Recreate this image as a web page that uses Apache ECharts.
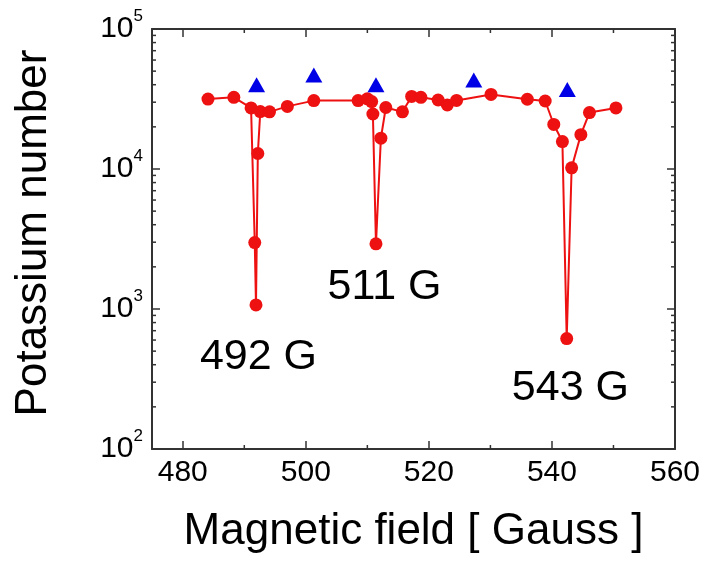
<!DOCTYPE html>
<html lang="en">
<head>
<meta charset="UTF-8">
<title>Potassium number vs magnetic field</title>
<style>
    html, body { margin: 0; padding: 0; background: #fff; }
    #chart { width: 706px; height: 562px; }
</style>
</head>
<body>
<div id="chart"></div>
<script src="https://cdn.jsdelivr.net/npm/echarts@6/dist/echarts.min.js"></script>
<script>
    // measured loss curve (red)
    var fieldG = [484.1, 488.3, 491.1, 491.7, 491.9, 492.2, 492.6, 494.1, 497.0, 501.3, 508.5,
        510.0, 510.7, 510.9, 511.4, 512.2, 513.0, 515.7, 517.2, 518.7, 521.5, 523.0, 524.5,
        530.1, 536.0, 538.9, 540.3, 541.7, 542.4, 543.2, 544.7, 546.1, 550.4];
    var potassium = [31600, 32500, 27300, 2980, 1070, 12900, 25700, 25600, 28000, 30800, 30800,
        31700, 30300, 24700, 2920, 16600, 27500, 25600, 33000, 32500, 31100, 28700, 30900,
        34100, 31500, 30600, 20800, 15700, 615, 10200, 17600, 25300, 27300];
    // reference points (blue triangles)
    var refField = [492.0, 501.3, 511.4, 527.3, 542.5];
    var refLevel = [40000, 47000, 40000, 43300, 36900];
    // resonance labels
    var notes = ['492 G', '511 G', '543 G'];
    var noteX = [492.3, 512.8, 543.0];
    var noteY = [456, 1426, 270];
    // ticks
    var xMajor = [480, 500, 520, 540, 560];
    var xMinor = [490, 510, 530, 550];
    var yDecades = [100, 1000, 10000];

    var xMin = 475, xMax = 560, yMin = 100, yMax = 100000;
    var font = 'Liberation Sans, Arial, sans-serif';
    var frame = '#333';

    var redData = fieldG.map(function (x, i) { return [x, potassium[i]]; });
    var blueData = refField.map(function (x, i) { return [x, refLevel[i]]; });
    var noteData = notes.map(function (n, i) { return {name: n, value: [noteX[i], noteY[i]]}; });
    var yMinorData = [];
    yDecades.forEach(function (d) {
        for (var k = 2; k <= 9; k++) yMinorData.push([xMin, d * k]);
    });
    var xMinorData = xMinor.map(function (x) { return [x, yMin]; });

    function sideAxis(pos, showLabel) {
        return {
            type: 'value',
            position: pos,
            min: xMin,
            max: xMax,
            axisLine: {show: true, onZero: false, lineStyle: {color: frame, width: 2}},
            axisTick: {show: true, inside: true, length: 8, customValues: xMajor,
                lineStyle: {color: frame, width: 1.5}},
            axisLabel: {show: showLabel, customValues: xMajor, margin: 9, color: '#000',
                fontSize: 30, fontFamily: font},
            splitLine: {show: false}
        };
    }

    function logAxis(pos, showLabel) {
        return {
            type: 'log',
            logBase: 10,
            position: pos,
            min: yMin,
            max: yMax,
            axisLine: {show: true, onZero: false, lineStyle: {color: frame, width: 2}},
            axisTick: {show: true, inside: true, length: 8, lineStyle: {color: frame, width: 1.5}},
            axisLabel: {
                show: showLabel,
                margin: 9,
                showMinLabel: true,
                showMaxLabel: true,
                formatter: function (v) {
                    return '{b|10}{s|' + Math.round(Math.log10(v)) + '}';
                },
                rich: {
                    b: {fontSize: 30, lineHeight: 42, color: '#000', fontFamily: font},
                    s: {fontSize: 17, lineHeight: 17, color: '#000', fontFamily: font, verticalAlign: 'top'}
                }
            },
            splitLine: {show: false}
        };
    }

    var xBottom = sideAxis('bottom', true);
    xBottom.name = 'Magnetic field [ Gauss ]';
    xBottom.nameLocation = 'middle';
    xBottom.nameGap = 61;
    xBottom.nameTextStyle = {fontSize: 44, lineHeight: 44, color: '#000', fontFamily: font};

    var yLeft = logAxis('left', true);
    yLeft.name = 'Potassium number';
    yLeft.nameLocation = 'middle';
    yLeft.nameGap = 96;
    yLeft.nameTextStyle = {fontSize: 44, lineHeight: 44, color: '#000', fontFamily: font,
        padding: [0, 0, 0, 12]};

    var chart = echarts.init(document.getElementById('chart'), null, {renderer: 'canvas'});
    var option = {
        animation: false,
        backgroundColor: '#fff',
        grid: {left: 152, right: 31, top: 29, bottom: 113},
        xAxis: [xBottom, sideAxis('top', false)],
        yAxis: [yLeft, logAxis('right', false)],
        series: [
            {
                // minor ticks on the log axes (left and right)
                type: 'custom',
                silent: true,
                z: 1,
                data: yMinorData,
                renderItem: function (params, api) {
                    var cs = params.coordSys;
                    var py = api.coord([api.value(0), api.value(1)])[1];
                    var st = {stroke: frame, lineWidth: 1.5};
                    return {type: 'group', children: [
                        {type: 'line', shape: {x1: cs.x, y1: py, x2: cs.x + 4, y2: py}, style: st},
                        {type: 'line', shape: {x1: cs.x + cs.width - 4, y1: py, x2: cs.x + cs.width, y2: py}, style: st}
                    ]};
                }
            },
            {
                // minor ticks on the field axes (top and bottom)
                type: 'custom',
                silent: true,
                z: 1,
                data: xMinorData,
                renderItem: function (params, api) {
                    var cs = params.coordSys;
                    var px = api.coord([api.value(0), api.value(1)])[0];
                    var st = {stroke: frame, lineWidth: 1.5};
                    return {type: 'group', children: [
                        {type: 'line', shape: {x1: px, y1: cs.y + cs.height, x2: px, y2: cs.y + cs.height - 4}, style: st},
                        {type: 'line', shape: {x1: px, y1: cs.y, x2: px, y2: cs.y + 4}, style: st}
                    ]};
                }
            },
            {
                name: 'potassium',
                type: 'line',
                data: redData,
                symbol: 'circle',
                symbolSize: 13,
                z: 3,
                lineStyle: {color: '#ee1111', width: 2},
                itemStyle: {color: '#ee1111', opacity: 1}
            },
            {
                name: 'reference',
                type: 'scatter',
                data: blueData,
                symbol: 'triangle',
                symbolSize: [17, 15],
                z: 4,
                itemStyle: {color: '#0000e6', opacity: 1}
            },
            {
                name: 'notes',
                type: 'scatter',
                data: noteData,
                symbolSize: 0,
                silent: true,
                z: 5,
                itemStyle: {opacity: 1},
                label: {
                    show: true,
                    position: 'inside',
                    formatter: '{b}',
                    color: '#000',
                    opacity: 1,
                    fontSize: 43,
                    fontFamily: font
                }
            }
        ]
    };
    chart.setOption(option);
</script>
</body>
</html>
